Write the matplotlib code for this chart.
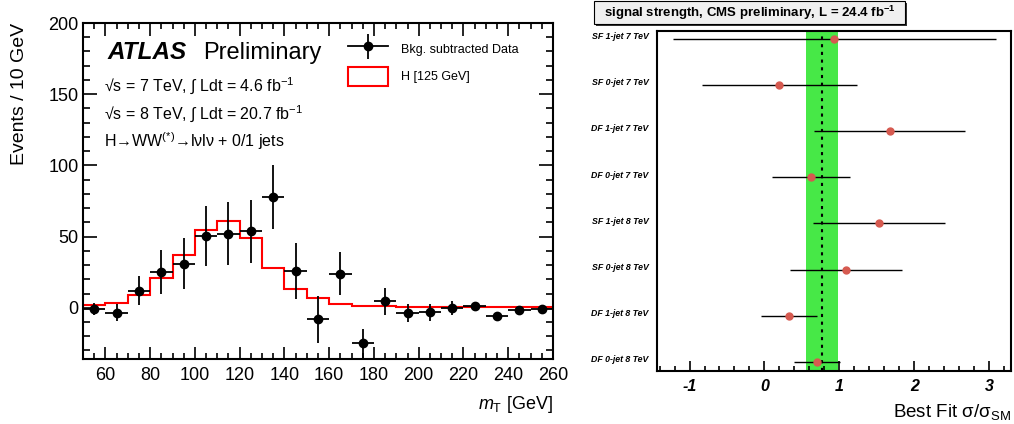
import numpy as np
import matplotlib.pyplot as plt
from matplotlib.lines import Line2D
from matplotlib.patches import Patch, Rectangle
from matplotlib.legend_handler import HandlerTuple
from matplotlib.ticker import MultipleLocator

plt.rcParams['font.family'] = ['Liberation Sans', 'DejaVu Sans']
plt.rcParams['mathtext.fontset'] = 'custom'
plt.rcParams['mathtext.rm'] = 'Liberation Sans'
plt.rcParams['mathtext.it'] = 'Liberation Sans:italic'
plt.rcParams['mathtext.bf'] = 'Liberation Sans:bold'
plt.rcParams['axes.unicode_minus'] = False

# --- ATLAS: background-subtracted mT distribution ---
mt_edges = np.arange(50, 270, 10)
mt_centers = mt_edges[:-1] + 5
data_vals = [-1, -3.5, 12, 25, 31, 50.5, 52, 53.7, 77.5, 25.7, -8, 24, -25, 4.5,
             -3.8, -3.3, 0, 1, -6, -1.4, -1]
data_errs = [4, 6, 10, 15.5, 18, 21, 22, 22, 22.5, 19.5, 16.5, 15, 10, 9.5,
             6.5, 6, 5, 3, 1.5, 1.5, 1.5]
higgs_vals = [1.6, 3, 9, 21, 37, 54.4, 61, 49, 28, 13.3, 6.5, 2.5, 1.2, 1.0,
              0.6, 0.5, 0.4, 0.4, 0.3, 0.3, 0.3]

# --- CMS: signal strength per category ---
categories = ["SF 1-jet 7 TeV", "SF 0-jet 7 TeV", "DF 1-jet 7 TeV", "DF 0-jet 7 TeV",
              "SF 1-jet 8 TeV", "SF 0-jet 8 TeV", "DF 1-jet 8 TeV", "DF 0-jet 8 TeV"]
mu_best = [0.93, 0.20, 1.67, 0.615, 1.527, 1.089, 0.328, 0.704]
mu_low = [-1.218, -0.84, 0.664, 0.097, 0.651, 0.336, -0.04, 0.394]
mu_high = [3.085, 1.23, 2.68, 1.138, 2.404, 1.842, 0.695, 1.01]
mu_comb = 0.763
mu_comb_lo, mu_comb_hi = 0.554, 0.976

W, H = 1014, 424
fig = plt.figure(figsize=(W / 100, H / 100), dpi=100)

def fbox(l, t, r, b):
    return [l / W, 1 - b / H, (r - l) / W, (b - t) / H]

# ---------------- left panel ----------------
ax = fig.add_axes(fbox(83, 23, 553, 359))
ax.stairs(higgs_vals, mt_edges, color='red', lw=1.5, zorder=2)
ax.errorbar(mt_centers, data_vals, xerr=5, yerr=data_errs, fmt='o', color='black',
            ms=6, elinewidth=1.3, capsize=0, zorder=3)
ax.set_xlim(50, 260)
ax.set_ylim(-36, 200)
ax.xaxis.set_major_locator(MultipleLocator(20))
ax.xaxis.set_minor_locator(MultipleLocator(5))
ax.yaxis.set_major_locator(MultipleLocator(50))
ax.yaxis.set_minor_locator(MultipleLocator(10))
ax.tick_params(which='both', direction='in', top=True, right=True, labelsize=13, width=1.2)
ax.tick_params(axis='x', which='major', length=9, pad=6)
ax.tick_params(axis='x', which='minor', length=4.5)
ax.tick_params(axis='y', which='major', length=10, pad=3)
ax.tick_params(axis='y', which='minor', length=5)
for s in ax.spines.values():
    s.set_linewidth(1.5)

ax.set_ylabel("Events / 10 GeV", fontsize=14, loc='top')
ax.yaxis.set_label_coords(-0.118, 1.0)
ax.set_xlabel(r"$m_{\mathrm{T}}$ [GeV]", fontsize=13, loc='right')
ax.xaxis.set_label_coords(1.0, -0.105)

ax.text(0.053, 0.893, "ATLAS", transform=ax.transAxes, fontsize=17.5,
        fontweight='bold', fontstyle='italic', va='baseline')
ax.text(0.255, 0.893, "Preliminary", transform=ax.transAxes, fontsize=17, va='baseline')
ax.text(0.045, 0.797, r"√s = 7 TeV, ∫ Ldt = 4.6 fb$^{-1}$", transform=ax.transAxes,
        fontsize=11.5, va='baseline')
ax.text(0.045, 0.714, r"√s = 8 TeV, ∫ Ldt = 20.7 fb$^{-1}$", transform=ax.transAxes,
        fontsize=11.5, va='baseline')
ax.text(0.045, 0.631, r"H→WW$^{(*)}$→lνlν + 0/1 jets", transform=ax.transAxes,
        fontsize=11.5, va='baseline')

data_handle = (Line2D([], [], color='black', lw=1.3, marker='o', ms=6),
               Line2D([], [], color='black', ls='none', marker='|', ms=18, mew=1.3))
higgs_handle = Patch(facecolor='white', edgecolor='red', lw=1.5)
ax.legend([data_handle, higgs_handle], ["Bkg. subtracted Data", "H [125 GeV]"],
          handler_map={tuple: HandlerTuple(ndivide=1)},
          loc='upper left', bbox_to_anchor=(0.54, 0.985), frameon=False,
          fontsize=9, handlelength=3.2, handleheight=1.9, labelspacing=0.75,
          handletextpad=1.0)

# ---------------- right panel ----------------
ax2 = fig.add_axes(fbox(657, 31, 1011, 371))
ypos = np.arange(len(categories))[::-1]
ax2.axvspan(mu_comb_lo, mu_comb_hi, color='#47e847', lw=0, zorder=1)
ax2.axvline(mu_comb, color='black', lw=1.5, ls=(0, (1.5, 2.2)), zorder=2)
ax2.hlines(ypos, mu_low, mu_high, color='black', lw=1.0, zorder=3)
ax2.plot(mu_best, ypos, 'o', color='#d65a50', ms=5, zorder=4)
ax2.set_xlim(-1.434, 3.29)
ax2.set_ylim(-0.2, 7.17)
ax2.set_yticks(ypos + 0.07, categories, fontsize=6.3, fontweight='bold', fontstyle='italic')
ax2.tick_params(axis='y', length=0, pad=6)
ax2.xaxis.set_major_locator(MultipleLocator(1))
ax2.xaxis.set_minor_locator(MultipleLocator(0.2))
ax2.tick_params(axis='x', which='both', direction='in', top=False, width=1.2)
ax2.tick_params(axis='x', which='major', length=7, pad=6, labelsize=11.5)
ax2.tick_params(axis='x', which='minor', length=3.5)
for lbl in ax2.get_xticklabels():
    lbl.set_fontweight('bold')
    lbl.set_fontstyle('italic')
for s in ax2.spines.values():
    s.set_linewidth(1.5)
ax2.set_xlabel(r"Best Fit σ/σ$_{\mathrm{SM}}$", fontsize=13.5, loc='right')
ax2.xaxis.set_label_coords(1.0, -0.092)

# title box with drop shadow
bl, bt, br, bb = 594, 1, 905, 24
fig.add_artist(Rectangle(((bl + 2) / W, 1 - (bb + 2) / H), (br - bl) / W, (bb - bt) / H,
                         transform=fig.transFigure, facecolor='#333333', lw=0))
fig.add_artist(Rectangle((bl / W, 1 - bb / H), (br - bl) / W, (bb - bt) / H,
                         transform=fig.transFigure, facecolor='#f0f0f0',
                         edgecolor='black', lw=0.8))
fig.text((bl + br) / 2 / W, 1 - (bt + bb) / 2 / H,
         r"signal strength, CMS preliminary, L = 24.4 fb$^{\mathbf{-1}}$",
         fontsize=9.5, fontweight='bold', ha='center', va='center')

fig.savefig("out.png", dpi=100)
